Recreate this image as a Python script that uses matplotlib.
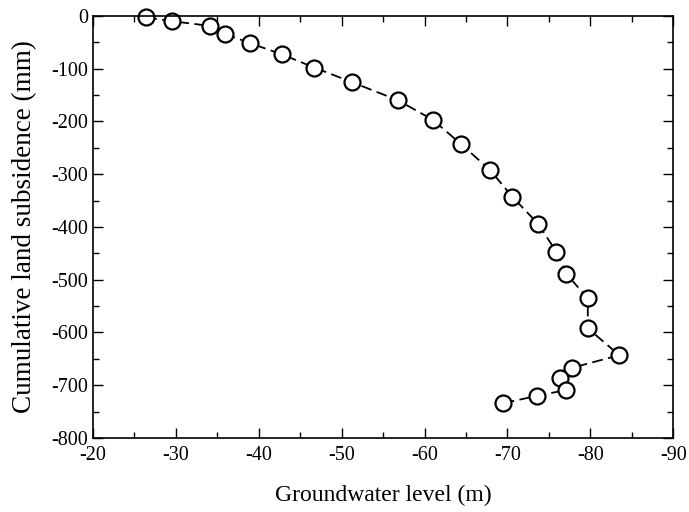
import matplotlib.pyplot as plt
from matplotlib.ticker import MultipleLocator

plt.rcParams['font.family'] = ['Liberation Serif', 'DejaVu Serif']
plt.rcParams['axes.unicode_minus'] = False

# groundwater level (m) and cumulative subsidence (mm)
gw_level = [-26.4, -29.5, -34.1, -35.9, -39.0, -42.8, -46.7, -51.3, -56.8, -61.0,
            -64.4, -67.9, -70.6, -73.7, -75.9, -77.1, -79.7, -79.7, -83.5, -77.8,
            -76.4, -77.1, -73.6, -69.5]
subsidence = [-3, -10, -19, -34, -52, -73, -98, -126, -160, -197,
              -243, -292, -343, -394, -447, -489, -535, -592, -643, -667,
              -686, -709, -720, -734]

fig = plt.figure(figsize=(6.89, 5.12), dpi=100)
ax = fig.add_axes([0.135, 0.1445, 0.842, 0.8245])

ax.plot(gw_level, subsidence, color='black', lw=1.3, dashes=(6, 3),
        marker='o', markersize=11.5, markerfacecolor='white',
        markeredgecolor='black', markeredgewidth=1.6, clip_on=False)

ax.set_xlim(-20, -90)
ax.set_ylim(-800, 0)
ax.xaxis.set_major_locator(MultipleLocator(10))
ax.xaxis.set_minor_locator(MultipleLocator(5))
ax.yaxis.set_major_locator(MultipleLocator(100))
ax.yaxis.set_minor_locator(MultipleLocator(50))
ax.tick_params(which='both', direction='in', top=True, right=True, labelsize=14.5, width=1)
ax.tick_params(which='major', length=7)
ax.tick_params(which='minor', length=4)
ax.tick_params(axis='x', pad=6)
for s in ax.spines.values():
    s.set_linewidth(1.2)

ax.set_xlabel('Groundwater level (m)', fontsize=17, labelpad=14)
ax.set_ylabel('Cumulative land subsidence (mm)', fontsize=19.5, labelpad=10)

fig.savefig('out.png', dpi=100)
